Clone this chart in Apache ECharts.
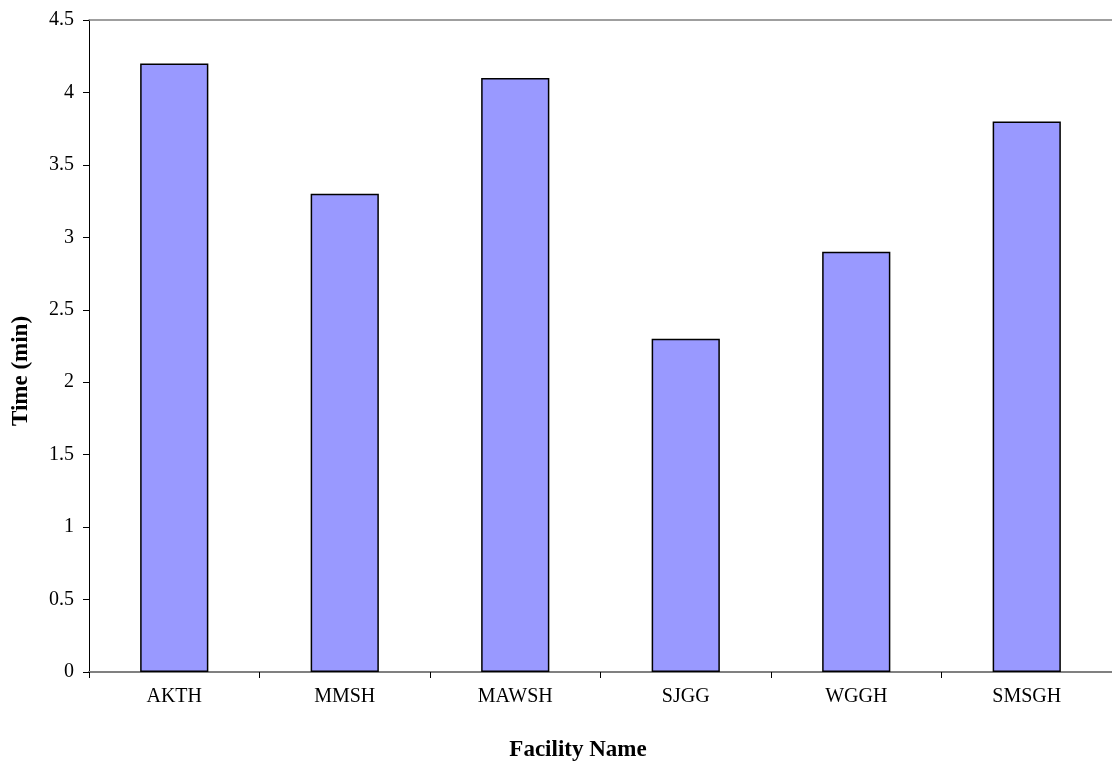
<!DOCTYPE html>
<html>
<head>
<meta charset="utf-8">
<script src="https://cdn.jsdelivr.net/npm/echarts@6/dist/echarts.min.js"></script>
<style>
  html, body { margin: 0; padding: 0; background: #ffffff; }
  #chart { width: 1112px; height: 764px; }
</style>
</head>
<body>
<div id="chart"></div>
<script>
// Facility names along the x axis
const facilities = ['AKTH', 'MMSH', 'MAWSH', 'SJGG', 'WGGH', 'SMSGH'];
// Time values in minutes
const times = [4.2, 3.3, 4.1, 2.3, 2.9, 3.8];
// Y axis range
const yMin = 0, yMax = 4.5, yStep = 0.5;

const FONT = '"Liberation Serif", "Times New Roman", serif';

const chart = echarts.init(document.getElementById('chart'), null, { renderer: 'canvas' });
chart.setOption({
  animation: false,
  backgroundColor: '#ffffff',
  grid: { left: 89, top: 20, width: 1032, height: 652, containLabel: false },
  xAxis: [
    {
      type: 'category',
      data: facilities,
      position: 'bottom',
      axisLine: { show: true, lineStyle: { color: '#808080', width: 2 } },
      axisTick: { show: true, inside: false, length: 6, alignWithLabel: false,
                  lineStyle: { color: '#000000', width: 1 } },
      axisLabel: { color: '#000000', fontFamily: FONT, fontSize: 20, margin: 15 },
      splitLine: { show: false }
    },
    {
      type: 'category',
      data: facilities,
      position: 'top',
      axisLine: { show: true, lineStyle: { color: '#808080', width: 1.5 } },
      axisTick: { show: false },
      axisLabel: { show: false },
      splitLine: { show: false }
    }
  ],
  yAxis: {
    type: 'value',
    min: yMin, max: yMax, interval: yStep,
    axisLine: { show: true, lineStyle: { color: '#000000', width: 1 } },
    axisTick: { show: true, inside: false, length: 6, lineStyle: { color: '#000000' } },
    axisLabel: { color: '#000000', fontFamily: FONT, fontSize: 20, margin: 15 },
    splitLine: { show: false }
  },
  graphic: [
    {
      type: 'text',
      x: 21, y: 371,
      rotation: Math.PI / 2,
      style: { text: 'Time (min)', fontFamily: FONT, fontSize: 23, fontWeight: 'bold',
               fill: '#000000', textAlign: 'center', textVerticalAlign: 'middle' }
    },
    {
      type: 'text',
      x: 578, y: 750,
      style: { text: 'Facility Name', fontFamily: FONT, fontSize: 23, fontWeight: 'bold',
               fill: '#000000', textAlign: 'center', textVerticalAlign: 'middle' }
    }
  ],
  series: [{
    type: 'bar',
    data: times,
    xAxisIndex: 0,
    barWidth: '40%',
    itemStyle: { color: '#9999FF', borderColor: '#000000', borderWidth: 1.5 }
  }]
});
</script>
</body>
</html>
